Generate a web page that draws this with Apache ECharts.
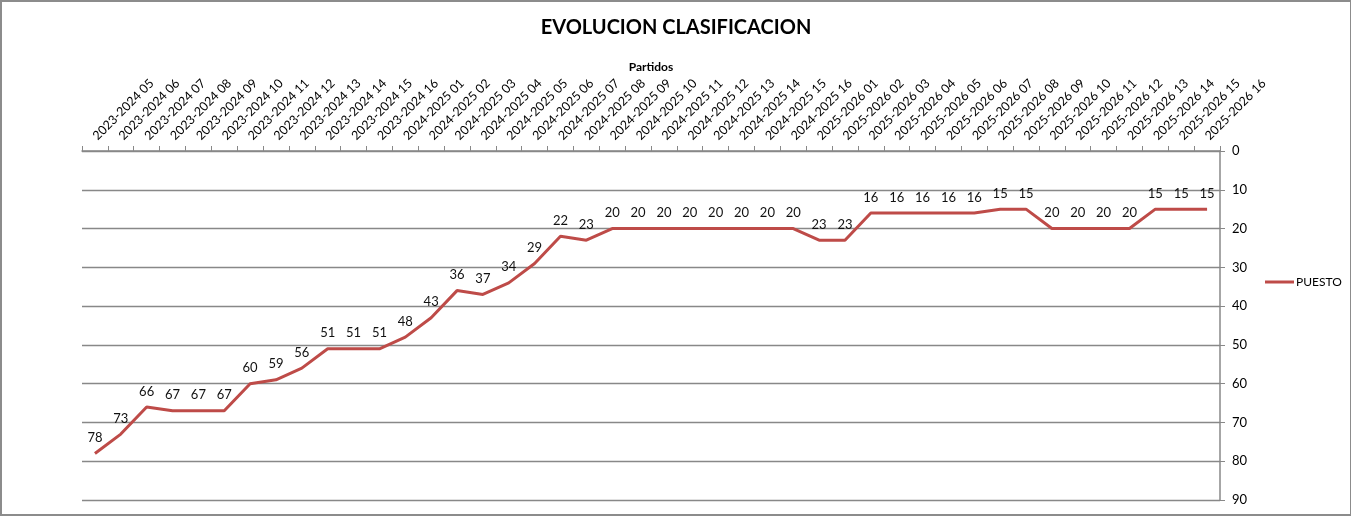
<!DOCTYPE html>
<html>
<head>
<meta charset="utf-8">
<script src="https://cdn.jsdelivr.net/npm/echarts@6/dist/echarts.min.js"></script>
<style>
html,body{margin:0;padding:0;background:#fff;}
#wrap{position:absolute;left:0;top:0;width:1348px;height:512px;border:2px solid #8c8c8c;border-right-width:1px;}
#chart{position:absolute;left:0;top:0;width:1352px;height:516px;}
</style>
</head>
<body>
<div id="wrap"></div>
<div id="chart"></div>
<script>
const categories = [
  "2023-2024 05","2023-2024 06","2023-2024 07","2023-2024 08","2023-2024 09","2023-2024 10",
  "2023-2024 11","2023-2024 12","2023-2024 13","2023-2024 14","2023-2024 15","2023-2024 16",
  "2024-2025 01","2024-2025 02","2024-2025 03","2024-2025 04","2024-2025 05","2024-2025 06",
  "2024-2025 07","2024-2025 08","2024-2025 09","2024-2025 10","2024-2025 11","2024-2025 12",
  "2024-2025 13","2024-2025 14","2024-2025 15","2024-2025 16",
  "2025-2026 01","2025-2026 02","2025-2026 03","2025-2026 04","2025-2026 05","2025-2026 06",
  "2025-2026 07","2025-2026 08","2025-2026 09","2025-2026 10","2025-2026 11","2025-2026 12",
  "2025-2026 13","2025-2026 14","2025-2026 15","2025-2026 16"
];
const puesto = [
  78,73,66,67,67,67,60,59,56,51,51,51,
  48,43,36,37,34,29,22,23,20,20,20,20,20,20,20,20,
  23,23,16,16,16,16,16,15,15,20,20,20,20,15,15,15
];
const yTicks = {min:0, max:90, interval:10};
const titleText = "EVOLUCION CLASIFICACION";
const xName = "Partidos";
const seriesName = "PUESTO";

const FONT = "Lato";
const chart = echarts.init(document.getElementById('chart'));
chart.setOption({
  animation:false,
  backgroundColor:'transparent',
  textStyle:{fontFamily:FONT},
  title:{
    text:titleText, left:'center', top:13,
    textStyle:{fontFamily:FONT, fontSize:20, fontWeight:'bold', color:'#000'}
  },
  legend:{
    data:[seriesName], orient:'vertical', left:1260, top:271,
    icon:'rect', itemWidth:29, itemHeight:3, itemGap:5,
    textStyle:{fontFamily:FONT, fontSize:12, color:'#000', padding:[0,0,0,-3]}
  },
  grid:{left:82, right:132, top:151, bottom:16, containLabel:false},
  xAxis:{
    type:'category', data:categories, position:'top', boundaryGap:true,
    name:xName, nameLocation:'middle', nameGap:78, nameMoveOverlap:false,
    nameTextStyle:{fontFamily:FONT, fontSize:12, fontWeight:'bold', color:'#000'},
    axisLine:{show:true, lineStyle:{color:'#888', width:1.5}},
    axisTick:{show:true, length:5, lineStyle:{color:'#888'}},
    axisLabel:{interval:0, rotate:45, fontSize:12.5, color:'#000', fontFamily:FONT, margin:13},
    splitLine:{show:false}
  },
  yAxis:{
    type:'value', inverse:true, position:'right',
    min:yTicks.min, max:yTicks.max, interval:yTicks.interval,
    axisLine:{show:true, lineStyle:{color:'#888', width:1.5}},
    axisTick:{show:true, length:5, lineStyle:{color:'#888'}},
    axisLabel:{fontSize:13, color:'#000', fontFamily:FONT, margin:12},
    splitLine:{show:true, lineStyle:{color:'#888', width:1.3}}
  },
  series:[{
    name:seriesName, type:'line', data:puesto,
    symbol:'circle', symbolSize:0.1, showSymbol:true,
    lineStyle:{color:'#BE4B48', width:3},
    itemStyle:{color:'#BE4B48'},
    label:{show:true, position:'top', distance:9, fontSize:13, color:'#111', fontFamily:FONT}
  }]
});
</script>
</body>
</html>
